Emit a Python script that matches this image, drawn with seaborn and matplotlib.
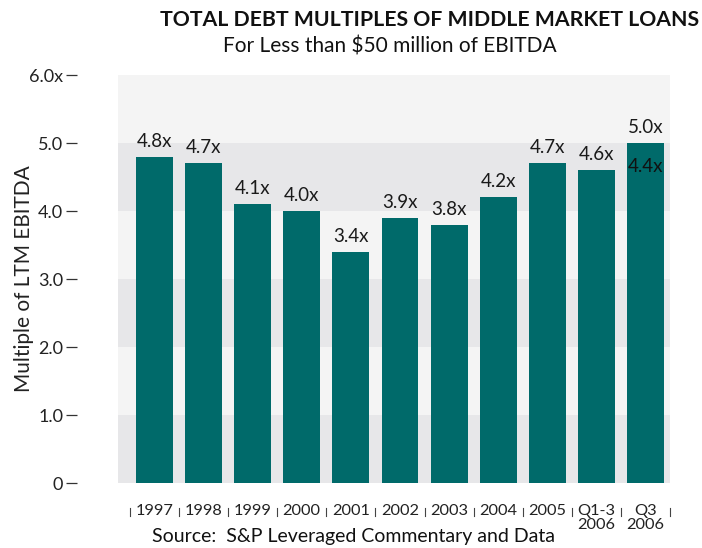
import matplotlib
matplotlib.use("Agg")
import matplotlib.pyplot as plt
import seaborn as sns
import pandas as pd

categories = ["1997", "1998", "1999", "2000", "2001", "2002", "2003", "2004", "2005", "Q1-3\n2006", "Q3\n2006"]
values = [4.8, 4.7, 4.1, 4.0, 3.4, 3.9, 3.8, 4.2, 4.7, 4.6, 5.0]
value_labels = ["4.8x", "4.7x", "4.1x", "4.0x", "3.4x", "3.9x", "3.8x", "4.2x", "4.7x", "4.6x", "5.0x"]
inner_label = "4.4x"
ytick_values = [0, 1, 2, 3, 4, 5, 6]
ytick_labels = ["0", "1.0", "2.0", "3.0", "4.0", "5.0", "6.0x"]

plt.rcParams['font.family'] = ['Lato', 'DejaVu Sans']

df = pd.DataFrame({"period": categories, "multiple": values})

fig = plt.figure(figsize=(7.02, 5.48), dpi=100)
ax = fig.add_axes([0.168, 0.1186, 0.786, 0.7445])

band_colors = ["#e7e7e9", "#f4f4f4"]
for i in range(6):
    ax.axhspan(i, i + 1, color=band_colors[i % 2], zorder=0, lw=0)

sns.barplot(data=df, x="period", y="multiple", color="#006a6a", width=0.75,
            saturation=1, ax=ax, zorder=2)

ax.set_xlim(-0.74, 10.49)
ax.set_ylim(0, 6)

for i, (v, lab) in enumerate(zip(values, value_labels)):
    ax.annotate(lab, (i, v), xytext=(0, 5), textcoords="offset points",
                ha="center", va="bottom", fontsize=13.5, color="#1a1a1a")
ax.annotate(inner_label, (len(values) - 1, values[-1]), xytext=(0, -17),
            textcoords="offset points", ha="center", va="center", fontsize=13.5, color="#111111")

for s in ["top", "right", "bottom"]:
    ax.spines[s].set_visible(False)
ax.spines["left"].set_position(("outward", 29.5))
ax.spines["left"].set_visible(False)
ax.set_yticks(ytick_values)
ax.set_yticklabels(ytick_labels, fontsize=13, color="#222222")
ax.tick_params(axis="y", direction="out", length=8, width=0.9, color="#333333", pad=2)

ax.set_xticks(range(len(categories)))
ax.set_xticklabels(categories, fontsize=11.8, color="#222222", linespacing=1.0)
ax.tick_params(axis="x", length=0, pad=15)

for k in range(len(categories) + 1):
    x = k - 0.5
    ax.plot([x, x], [-0.37, -0.48], transform=ax.transData, color="#444444",
            lw=0.8, clip_on=False)

ax.set_xlabel("")
ax.set_ylabel("Multiple of LTM EBITDA", fontsize=15, color="#222222", labelpad=2)
ax.yaxis.set_label_coords(-0.152, 0.5)

fig.text(0.6125, 0.963, "TOTAL DEBT MULTIPLES OF MIDDLE MARKET LOANS", ha="center", va="center",
         fontsize=15.3, fontweight="bold", color="#111111")
fig.text(0.556, 0.916, "For Less than $50 million of EBITDA", ha="center", va="center",
         fontsize=15, color="#111111")
fig.text(0.504, 0.021, "Source:  S&P Leveraged Commentary and Data", ha="center", va="center",
         fontsize=14, color="#111111")

fig.savefig("out.png", dpi=100)
